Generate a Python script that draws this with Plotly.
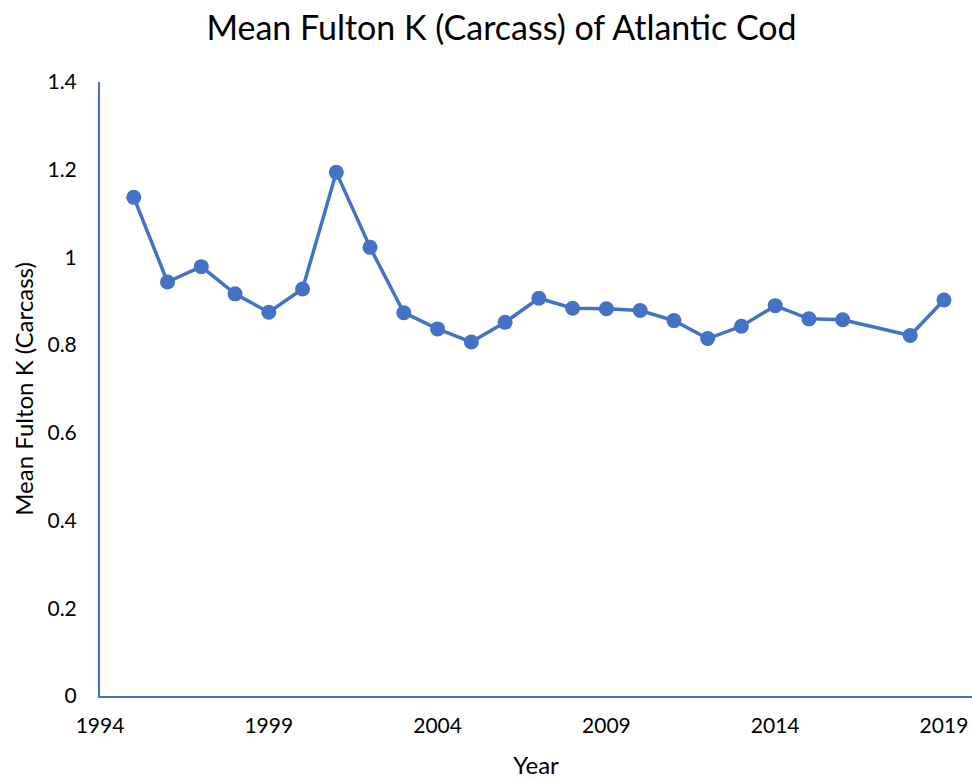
import plotly.graph_objects as go

# Mean Fulton condition factor (carcass) by survey year
years = [1995, 1996, 1997, 1998, 1999, 2000, 2001, 2002, 2003, 2004, 2005, 2006,
         2007, 2008, 2009, 2010, 2011, 2012, 2013, 2014, 2015, 2016, 2018, 2019]
fulton_k = [1.137, 0.944, 0.979, 0.917, 0.875, 0.928, 1.194, 1.023, 0.874, 0.837, 0.807, 0.852,
            0.907, 0.884, 0.883, 0.879, 0.856, 0.815, 0.843, 0.890, 0.860, 0.858, 0.822, 0.903]

x_ticks = [1994, 1999, 2004, 2009, 2014, 2019]
y_ticks = [0, 0.2, 0.4, 0.6, 0.8, 1.0, 1.2, 1.4]
y_tick_text = ["0", "0.2", "0.4", "0.6", "0.8", "1", "1.2", "1.4"]

BLUE = "#4472C4"
FONT = "Lato, 'Open Sans', sans-serif"

fig = go.Figure(
    go.Scatter(
        x=years, y=fulton_k, mode="lines+markers",
        line=dict(color=BLUE, width=3.5),
        marker=dict(color=BLUE, size=15),
        showlegend=False,
    )
)

fig.update_layout(
    width=972, height=780,
    margin=dict(l=100, r=0, t=82, b=84),
    paper_bgcolor="white", plot_bgcolor="white",
    font=dict(family=FONT, color="black"),
    title=dict(text="Mean Fulton K (Carcass) of Atlantic Cod", x=0.516, xanchor="center",
               y=0.964, yanchor="middle", font=dict(size=34, family=FONT, color="black")),
)

fig.update_xaxes(
    range=[1994, 2019.83], tickvals=x_ticks, ticktext=[str(v) for v in x_ticks],
    showgrid=False, zeroline=False, showline=True, linecolor=BLUE, linewidth=2,
    ticks="", ticklabelstandoff=10, tickfont=dict(size=21, color="black"),
    title=dict(text="Year", font=dict(size=24, color="black"), standoff=21),
)
fig.update_yaxes(
    range=[0, 1.4], tickvals=y_ticks, ticktext=y_tick_text,
    showgrid=False, zeroline=False, showline=True, linecolor=BLUE, linewidth=2,
    ticks="", ticklabelstandoff=17, tickfont=dict(size=21, color="black"),
    title=dict(text="Mean Fulton K (Carcass)", font=dict(size=24, color="black"), standoff=7),
)

fig.write_html("out.html")
